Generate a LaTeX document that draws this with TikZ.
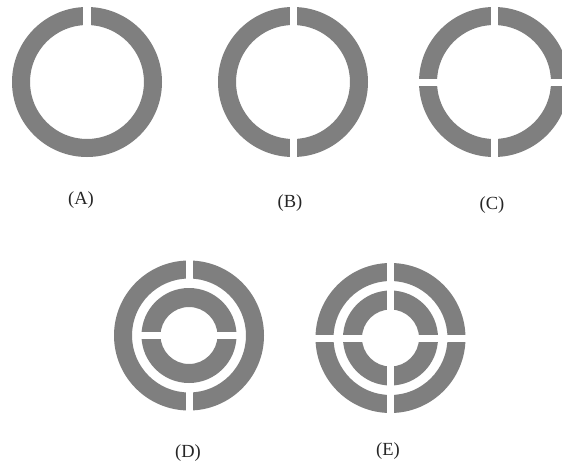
\documentclass[tikz,border=0pt]{standalone}
\usepackage{fontspec}
\setmainfont{Liberation Serif}
\usetikzlibrary{positioning}
\definecolor{cRing}{HTML}{7F7F7F}
\tikzset{
  ring/.style={fill=cRing,even odd rule},
  cut/.style={fill=white},
  lbl/.style={font=\fontsize{18.5}{21}\selectfont,text=black!85,inner sep=0pt},
}
\begin{document}
\begin{tikzpicture}[x=1pt,y=-1pt]
  \useasboundingbox[fill=white] (0,0) rectangle (562,466);
  % ring centres
  \coordinate (cA) at (87,82);
  \coordinate (cB) at (293,82);
  \coordinate (cC) at (494,82);
  \coordinate (cD) at (189,335.5);
  \coordinate (cE) at (390.5,338);
  % outer and inner rings
  \foreach \c in {cA,cB,cC,cD,cE}{\fill[ring] (\c) circle[radius=75] circle[radius=57];}
  \foreach \c in {cD,cE}{\fill[ring] (\c) circle[radius=47.5] circle[radius=28.5];}
  % gaps
  \fill[cut] (cA) ++(-3.75,-80) rectangle ++(7.5,30);
  \fill[cut] (cB) ++(-3.5,-80) rectangle ++(7,160);
  \fill[cut] (cC) ++(-3.5,-80) rectangle ++(7,160);
  \fill[cut] (cC) ++(-80,-3.5) rectangle ++(160,7);
  \foreach \s in {-80,52}{\fill[cut] (cD) ++(-3.5,\s) rectangle ++(7,28);}
  \fill[cut] (cD) ++(-52,-3.5) rectangle ++(104,7);
  \fill[cut] (cE) ++(-3.5,-80) rectangle ++(7,160);
  \fill[cut] (cE) ++(-80,-3.5) rectangle ++(160,7);
  % labels
  \node[lbl] (labA) at (81,200) {(A)};
  \node[lbl] (labB) at (290,203) {(B)};
  \node[lbl] (labC) at (492,205) {(C)};
  \node[lbl] (labD) at (188,453) {(D)};
  \node[lbl] (labE) at (388,451) {(E)};
\end{tikzpicture}
\end{document}
